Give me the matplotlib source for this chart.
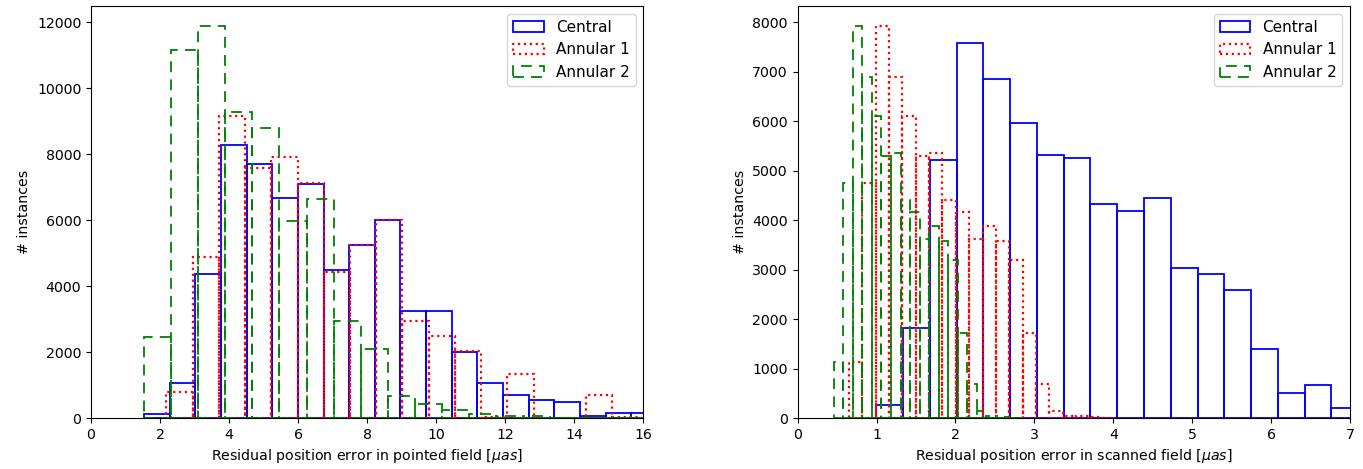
import numpy as np
import matplotlib
matplotlib.use('Agg')
import matplotlib.pyplot as plt

# bin ranges (20 bins each) and counts
# pointed field
pt_central_range = (1.537, 16.387)
pt_central = [130, 1070, 4373, 8263, 7707, 6657, 7100, 4475, 5242, 5990,
              3252, 3252, 2010, 1070, 706, 536, 475, 70, 142, 142]
pt_ann1_range = (2.18, 17.38)
pt_ann1 = [780, 4870, 9160, 7585, 7918, 7121, 4414, 5242, 6010, 2939,
           2485, 2020, 30, 1333, 10, 5, 697, 20, 0, 0]
pt_ann2_range = (1.546, 17.194)
pt_ann2 = [2440, 11150, 11888, 9282, 8797, 5960, 6646, 2939, 2100, 676,
           424, 233, 135, 50, 60, 10, 0, 0, 0, 5]

# scanned field
sc_central_range = (0.999, 7.779)
sc_central = [269, 1818, 5212, 7570, 6842, 5960, 5313, 5246, 4330, 4182,
              4451, 3037, 2916, 2580, 1388, 505, 660, 196, 100, 50]
sc_ann1_range = (0.649, 4.039)
sc_ann1 = [1138, 4754, 7926, 6889, 6101, 5300, 5360, 4404, 4162, 3610,
           3879, 3569, 3185, 1717, 693, 135, 47, 47, 30, 0]
sc_ann2_range = (0.459, 2.873)
sc_ann2 = [1138, 4754, 7926, 6889, 6101, 5300, 5360, 4404, 4162, 3610,
           3879, 3569, 3185, 1717, 693, 135, 47, 47, 30, 0]

labels = ['Central', 'Annular 1', 'Annular 2']
styles = [dict(edgecolor='blue', linestyle='-', linewidth=1.3),
          dict(edgecolor='red', linestyle=':', linewidth=1.6),
          dict(edgecolor='green', linestyle=(0, (6, 4)), linewidth=1.3)]

plt.rcParams['font.size'] = 10.2


def draw_hist(ax, rng, counts, label, style):
    edges = np.linspace(rng[0], rng[1], len(counts) + 1)
    centers = 0.5 * (edges[:-1] + edges[1:])
    ax.hist(centers, bins=edges, weights=counts, histtype='bar',
            fill=False, label=label, **style)


def main():
    fig, (ax1, ax2) = plt.subplots(1, 2, figsize=(13.63, 4.69), dpi=100)
    fig.subplots_adjust(left=0.0668, right=0.9905, top=0.987,
                        bottom=0.1087, wspace=0.279)

    for rng, counts, lab, st in zip(
            [pt_central_range, pt_ann1_range, pt_ann2_range],
            [pt_central, pt_ann1, pt_ann2], labels, styles):
        draw_hist(ax1, rng, counts, lab, st)
    ax1.set_xlim(0, 16)
    ax1.set_xticks(range(0, 17, 2))
    ax1.set_yticks(range(0, 12001, 2000))
    ax1.set_xlabel(r'Residual position error in pointed field [$\mu as$]')
    ax1.set_ylabel('# instances')
    ax1.legend(loc='upper right', fontsize=11)

    for rng, counts, lab, st in zip(
            [sc_central_range, sc_ann1_range, sc_ann2_range],
            [sc_central, sc_ann1, sc_ann2], labels, styles):
        draw_hist(ax2, rng, counts, lab, st)
    ax2.set_xlim(0, 7)
    ax2.set_xticks(range(0, 8))
    ax2.set_yticks(range(0, 8001, 1000))
    ax2.set_xlabel(r'Residual position error in scanned field [$\mu as$]')
    ax2.set_ylabel('# instances')
    ax2.legend(loc='upper right', fontsize=11)

    fig.savefig('out.png', dpi=100)


if __name__ == '__main__':
    main()
